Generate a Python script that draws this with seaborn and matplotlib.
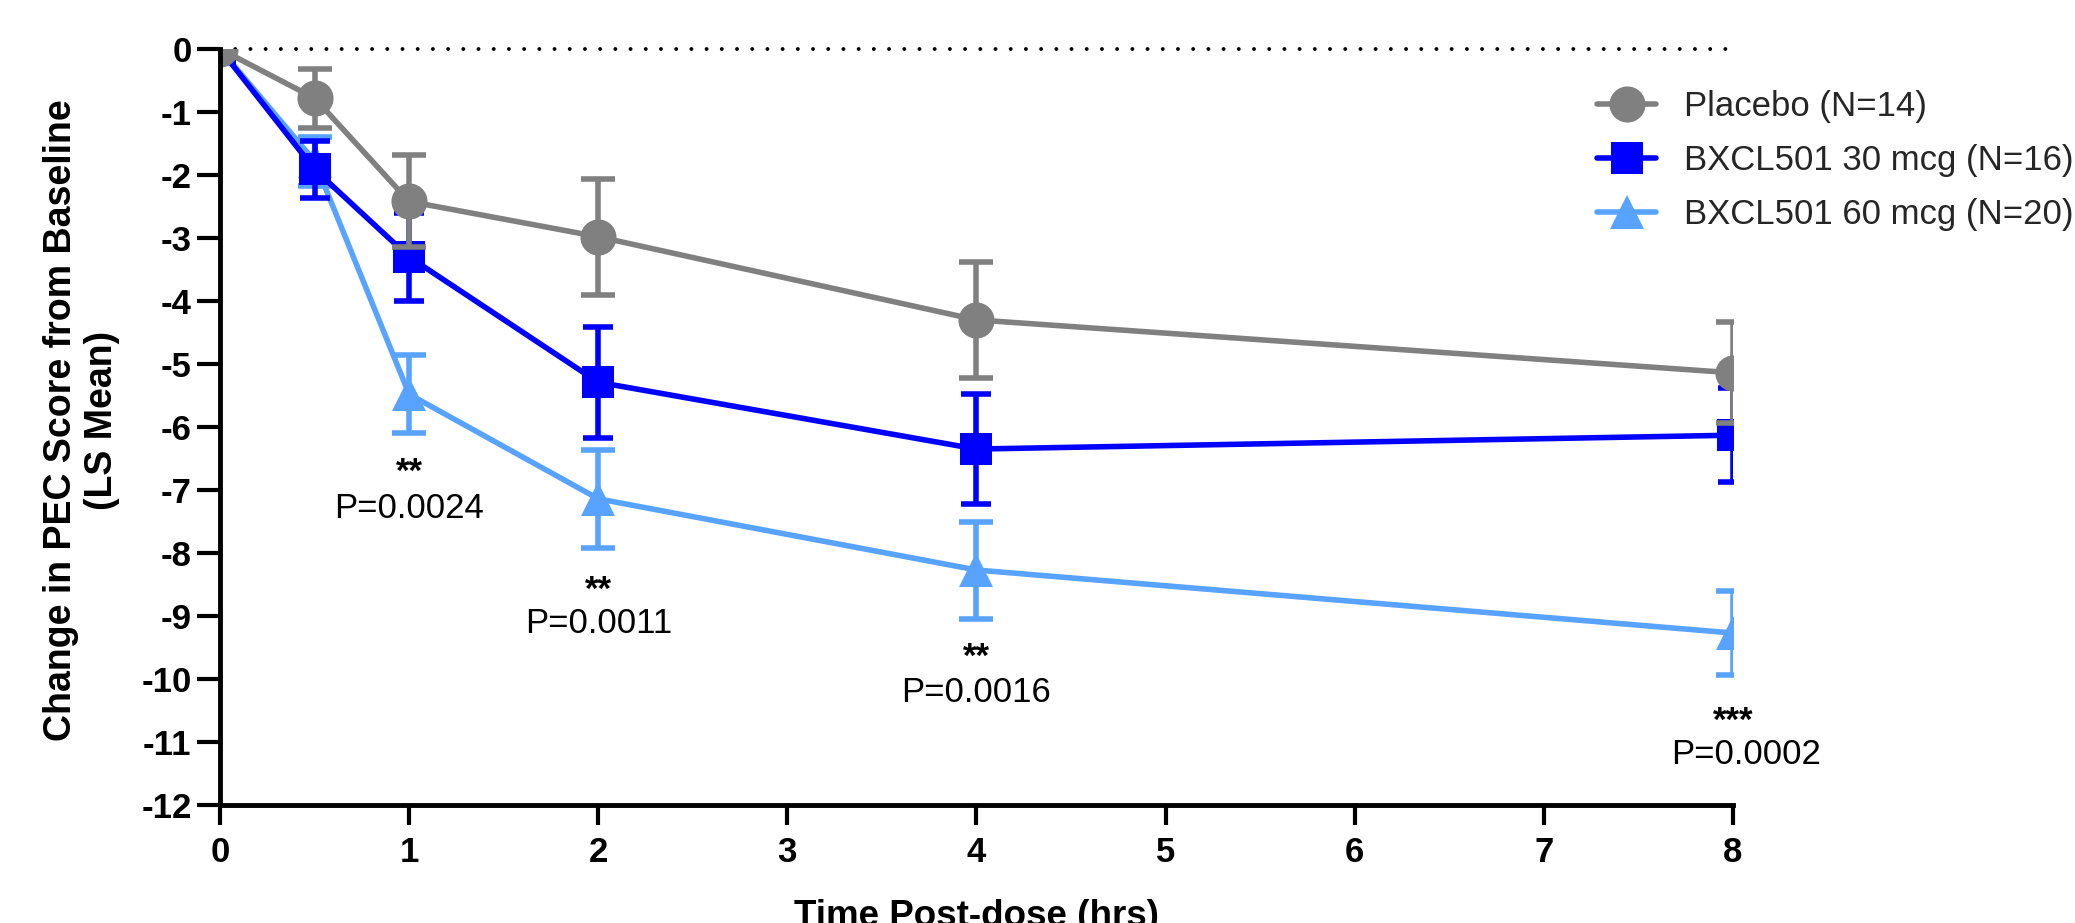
"""Change in PEC score from baseline, LS mean +/- SE, by dose group."""

import pandas as pd
import matplotlib
matplotlib.use('Agg')
import matplotlib.pyplot as plt
from matplotlib.lines import Line2D
import seaborn as sns

# --- data ---
hours = [0, 0.5, 1, 2, 4, 8]
groups = ['Placebo (N=14)', 'BXCL501 30 mcg (N=16)', 'BXCL501 60 mcg (N=20)']

placebo_mean = [0, -0.78, -2.42, -2.98, -4.30, -5.14]
placebo_se = [0, 0.47, 0.73, 0.92, 0.92, 0.80]
mcg30_mean = [0, -1.91, -3.30, -5.29, -6.35, -6.13]
mcg30_se = [0, 0.45, 0.70, 0.88, 0.88, 0.75]
mcg60_mean = [0, -1.78, -5.48, -7.14, -8.27, -9.27]
mcg60_se = [0, 0.39, 0.62, 0.78, 0.77, 0.67]

p_hours = [1, 2, 4, 8]
p_stars = ['**', '**', '**', '***']
p_labels = ['P=0.0024', 'P=0.0011', 'P=0.0016', 'P=0.0002']

# --- layout / style ---
colors = {groups[0]: '#808080', groups[1]: '#0000FF', groups[2]: '#58A3FF'}
markers = {groups[0]: 'o', groups[1]: 's', groups[2]: '^'}
msizes = {groups[0]: 26, groups[1]: 22.5, groups[2]: 25}
capsizes = {groups[0]: 12.5, groups[1]: 11, groups[2]: 12.5}
star_y = [-6.87, -8.75, -9.80, -10.82]
plab_y = [-7.45, -9.27, -10.36, -11.35]
plab_dx = [0, 0, 0, 0.07]


def build_frame():
    rows = []
    for g, m, s in zip(groups, [placebo_mean, mcg30_mean, mcg60_mean],
                       [placebo_se, mcg30_se, mcg60_se]):
        for h, mv, sv in zip(hours, m, s):
            rows.append({'hours': h, 'change': mv, 'se': sv, 'group': g})
    return pd.DataFrame(rows)


def main():
    df = build_frame()

    sns.set_theme(style='ticks')
    plt.rcParams['font.family'] = ['Liberation Sans', 'DejaVu Sans']
    plt.rcParams['axes.unicode_minus'] = False

    fig, ax = plt.subplots(figsize=(20.75, 9.23), dpi=100)
    fig.subplots_adjust(left=220 / 2075, right=1733 / 2075,
                        top=1 - 49 / 923, bottom=1 - 805 / 923)

    # draw back to front so placebo sits on top
    for i, g in enumerate(reversed(groups)):
        sub = df[df['group'] == g]
        z = 2 + i * 0.1
        ax.errorbar(sub['hours'], sub['change'], yerr=sub['se'], fmt='none',
                    ecolor=colors[g], elinewidth=4, capsize=capsizes[g],
                    capthick=4, zorder=z)
        sns.lineplot(data=sub, x='hours', y='change', color=colors[g],
                     marker=markers[g], markersize=msizes[g],
                     markeredgewidth=0, linewidth=4, ax=ax, zorder=z + 0.05,
                     legend=False)

    ax.axhline(0, color='black', lw=2.8, ls=(0, (0.01, 3.9)),
               dash_capstyle='round', clip_on=False, zorder=1)

    for x, st, pl, sy, py, dx in zip(p_hours, p_stars, p_labels,
                                     star_y, plab_y, plab_dx):
        ax.text(x, sy, st, ha='center', va='baseline', fontsize=25,
                fontweight='bold', color='black')
        ax.text(x + dx, py, pl, ha='center', va='baseline', fontsize=25,
                color='black')

    ax.set_xlim(0, 8)
    ax.set_ylim(-12, 0)
    ax.set_xticks(range(0, 9))
    ax.set_yticks(range(-12, 1))
    sns.despine(ax=ax)
    for side in ['left', 'bottom']:
        ax.spines[side].set_linewidth(3.5)
        ax.spines[side].set_color('black')
    ax.tick_params(axis='y', length=16.5, width=3, pad=4, labelsize=25,
                   color='black', labelcolor='black')
    ax.tick_params(axis='x', length=14.5, width=3, pad=8, labelsize=25,
                   color='black', labelcolor='black')
    for lbl in ax.get_xticklabels() + ax.get_yticklabels():
        lbl.set_fontweight('bold')

    ax.set_xlabel('Time Post-dose (hrs)', fontsize=26.5, fontweight='bold',
                  color='black', va='top')
    ax.set_ylabel('Change in PEC Score from Baseline\n(LS Mean)', fontsize=27,
                  fontweight='bold', color='black', linespacing=1.2)
    ax.xaxis.set_label_coords(0.5, -0.124)
    ax.yaxis.set_label_coords(-0.066, 0.509)

    handles = [Line2D([], [], color=colors[g], marker=markers[g],
                      markersize=msizes[g], markeredgewidth=0, linewidth=4)
               for g in groups]
    fig.legend(handles, groups, loc='upper left',
               bbox_to_anchor=(1597 / 2075, 1 - 90 / 923), frameon=False,
               fontsize=25, handlelength=1.7, handletextpad=0.82,
               labelspacing=0.6, borderpad=0, borderaxespad=0)

    fig.savefig('out.png', dpi=100)


if __name__ == '__main__':
    main()
